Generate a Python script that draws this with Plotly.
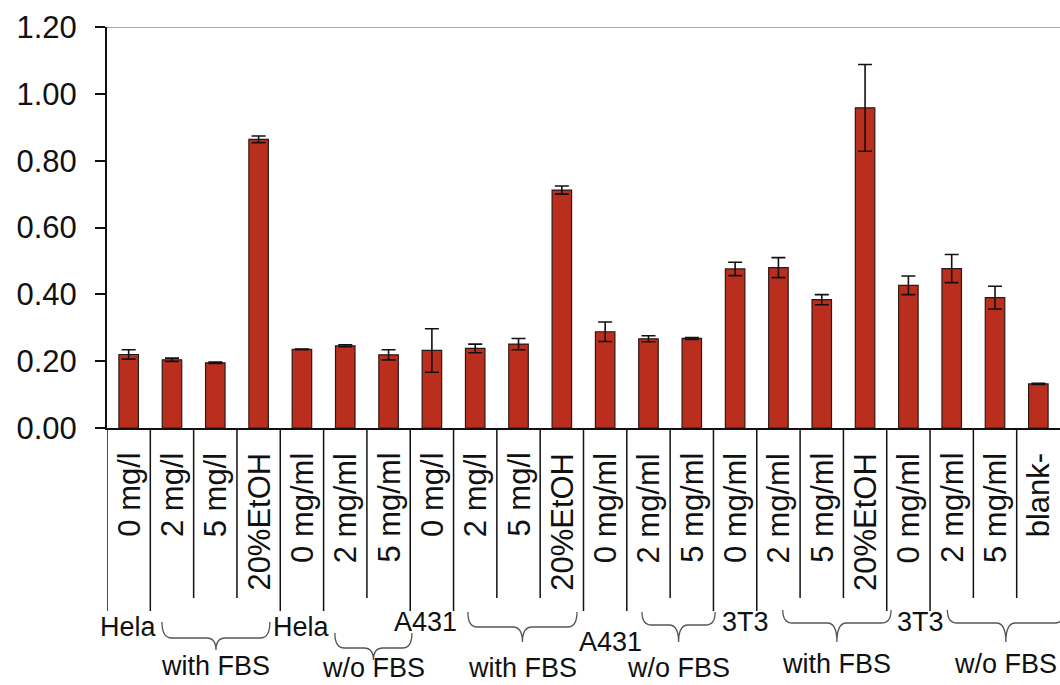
import plotly.graph_objects as go

# ---- data -------------------------------------------------------------
categories = ["0 mg/l", "2 mg/l", "5 mg/l", "20%EtOH",
              "0 mg/ml", "2 mg/ml", "5 mg/ml",
              "0 mg/l", "2 mg/l", "5 mg/l", "20%EtOH",
              "0 mg/ml", "2 mg/ml", "5 mg/ml",
              "0 mg/ml", "2 mg/ml", "5 mg/ml", "20%EtOH",
              "0 mg/ml", "2 mg/ml", "5 mg/ml", "blank-"]
values = [0.220, 0.204, 0.195, 0.864,
          0.235, 0.246, 0.219,
          0.232, 0.238, 0.251, 0.712,
          0.288, 0.267, 0.268,
          0.476, 0.480, 0.384, 0.958,
          0.427, 0.477, 0.390, 0.132]
errors = [0.014, 0.005, 0.002, 0.010,
          0.001, 0.003, 0.015,
          0.065, 0.013, 0.017, 0.012,
          0.029, 0.009, 0.003,
          0.020, 0.030, 0.015, 0.130,
          0.028, 0.042, 0.034, 0.002]

cell_lines = ["Hela", "Hela", "A431", "A431", "3T3", "3T3"]
conditions = ["with FBS", "w/o FBS", "with FBS", "w/o FBS", "with FBS", "w/o FBS"]
group_start = [0, 4, 7, 11, 14, 18]
group_end = [3, 6, 10, 13, 17, 21]
y_ticks = [0.0, 0.2, 0.4, 0.6, 0.8, 1.0, 1.2]

# ---- layout geometry (pixels) ----------------------------------------
W, H = 1060, 685
PLOT_LEFT, PLOT_TOP, PLOT_BOTTOM = 107, 27, 428
PLOT_H = PLOT_BOTTOM - PLOT_TOP


def py(p):
    """pixel row -> paper y"""
    return (PLOT_BOTTOM - p) / PLOT_H


FONT = "Liberation Sans, Arial, sans-serif"
BAR_COLOR = "#BA2E1E"

x = list(range(len(categories)))

fig = go.Figure()
fig.add_trace(go.Bar(
    x=x, y=values, width=0.45,
    marker=dict(color=BAR_COLOR, line=dict(color="#2a1a16", width=1.2)),
    error_y=dict(type="data", array=errors, visible=True,
                 color="#111111", thickness=1.6, width=7),
    hoverinfo="skip",
))

shapes = []
annotations = []

# top frame line
shapes.append(dict(type="line", xref="paper", yref="y", x0=0, x1=1, y0=1.2, y1=1.2,
                   line=dict(color="#8a8a8a", width=1.5), layer="below"))

# category separators below the axis
long_sep = set()
for s in group_start:
    long_sep.update({s, s + 1})
for k in range(len(categories)):
    end = 611 if k in long_sep else 598
    shapes.append(dict(type="line", xref="x", yref="paper",
                       x0=k - 0.5, x1=k - 0.5, y0=0, y1=py(end),
                       line=dict(color="#111111", width=1.5)))

# rotated category labels
for k, lab in enumerate(categories):
    annotations.append(dict(x=k, y=py(451), xref="x", yref="paper",
                            text=lab, textangle=-90, showarrow=False,
                            xanchor="center", yanchor="top",
                            font=dict(family=FONT, size=31, color="#111111")))

# group labels and braces
cell_dx = [0.0, 0.0, -0.14, 0.13, 0.25, 0.29]
cell_y = [627, 627, 622, 642, 622, 622]
brace_span = [(0.77, 3.26), (4.76, 6.54), (7.83, 10.35), (11.85, 13.54), (15.1, 17.6), (18.9, 21.6)]
brace_y = [(622, 638, 650), (633, 648, 660), (612, 627, 642), (612, 625, 642), (610, 623, 642), (610, 623, 642)]
cond_y = [666, 668, 668, 668, 664, 664]

for g in range(len(cell_lines)):
    annotations.append(dict(x=group_start[g] + cell_dx[g], y=py(cell_y[g]), xref="x", yref="paper",
                            text=cell_lines[g], showarrow=False,
                            xanchor="center", yanchor="middle",
                            font=dict(family=FONT, size=27, color="#111111")))
    x0, x1 = brace_span[g]
    xc = (x0 + x1) / 2
    yt, ym, yb = (py(v) for v in brace_y[g])
    r = 0.22
    path = (f"M {x0},{yt} Q {x0},{ym} {x0 + r},{ym} L {xc - r},{ym} "
            f"Q {xc},{ym} {xc},{yb} Q {xc},{ym} {xc + r},{ym} "
            f"L {x1 - r},{ym} Q {x1},{ym} {x1},{yt}")
    shapes.append(dict(type="path", xref="x", yref="paper", path=path,
                       line=dict(color="#555555", width=1.3)))
    annotations.append(dict(x=xc, y=py(cond_y[g]), xref="x", yref="paper",
                            text=conditions[g], showarrow=False,
                            xanchor="center", yanchor="middle",
                            font=dict(family=FONT, size=27, color="#111111")))

fig.update_layout(
    width=W, height=H,
    margin=dict(l=PLOT_LEFT, r=0, t=PLOT_TOP, b=H - PLOT_BOTTOM, autoexpand=False),
    paper_bgcolor="white", plot_bgcolor="white",
    showlegend=False,
    shapes=shapes, annotations=annotations,
    xaxis=dict(range=[-0.5, len(categories) - 0.5], showticklabels=False,
               ticks="", showgrid=False, zeroline=False,
               showline=True, linecolor="#111111", linewidth=2),
    yaxis=dict(range=[0, 1.2], tickvals=y_ticks, tickformat=".2f",
               ticks="outside", ticklen=10, tickwidth=1.5, tickcolor="#111111",
               showgrid=False, zeroline=False,
               showline=True, linecolor="#111111", linewidth=2,
               ticklabelstandoff=12,
               tickfont=dict(family=FONT, size=31, color="#111111")),
)

fig.write_html("out.html")
